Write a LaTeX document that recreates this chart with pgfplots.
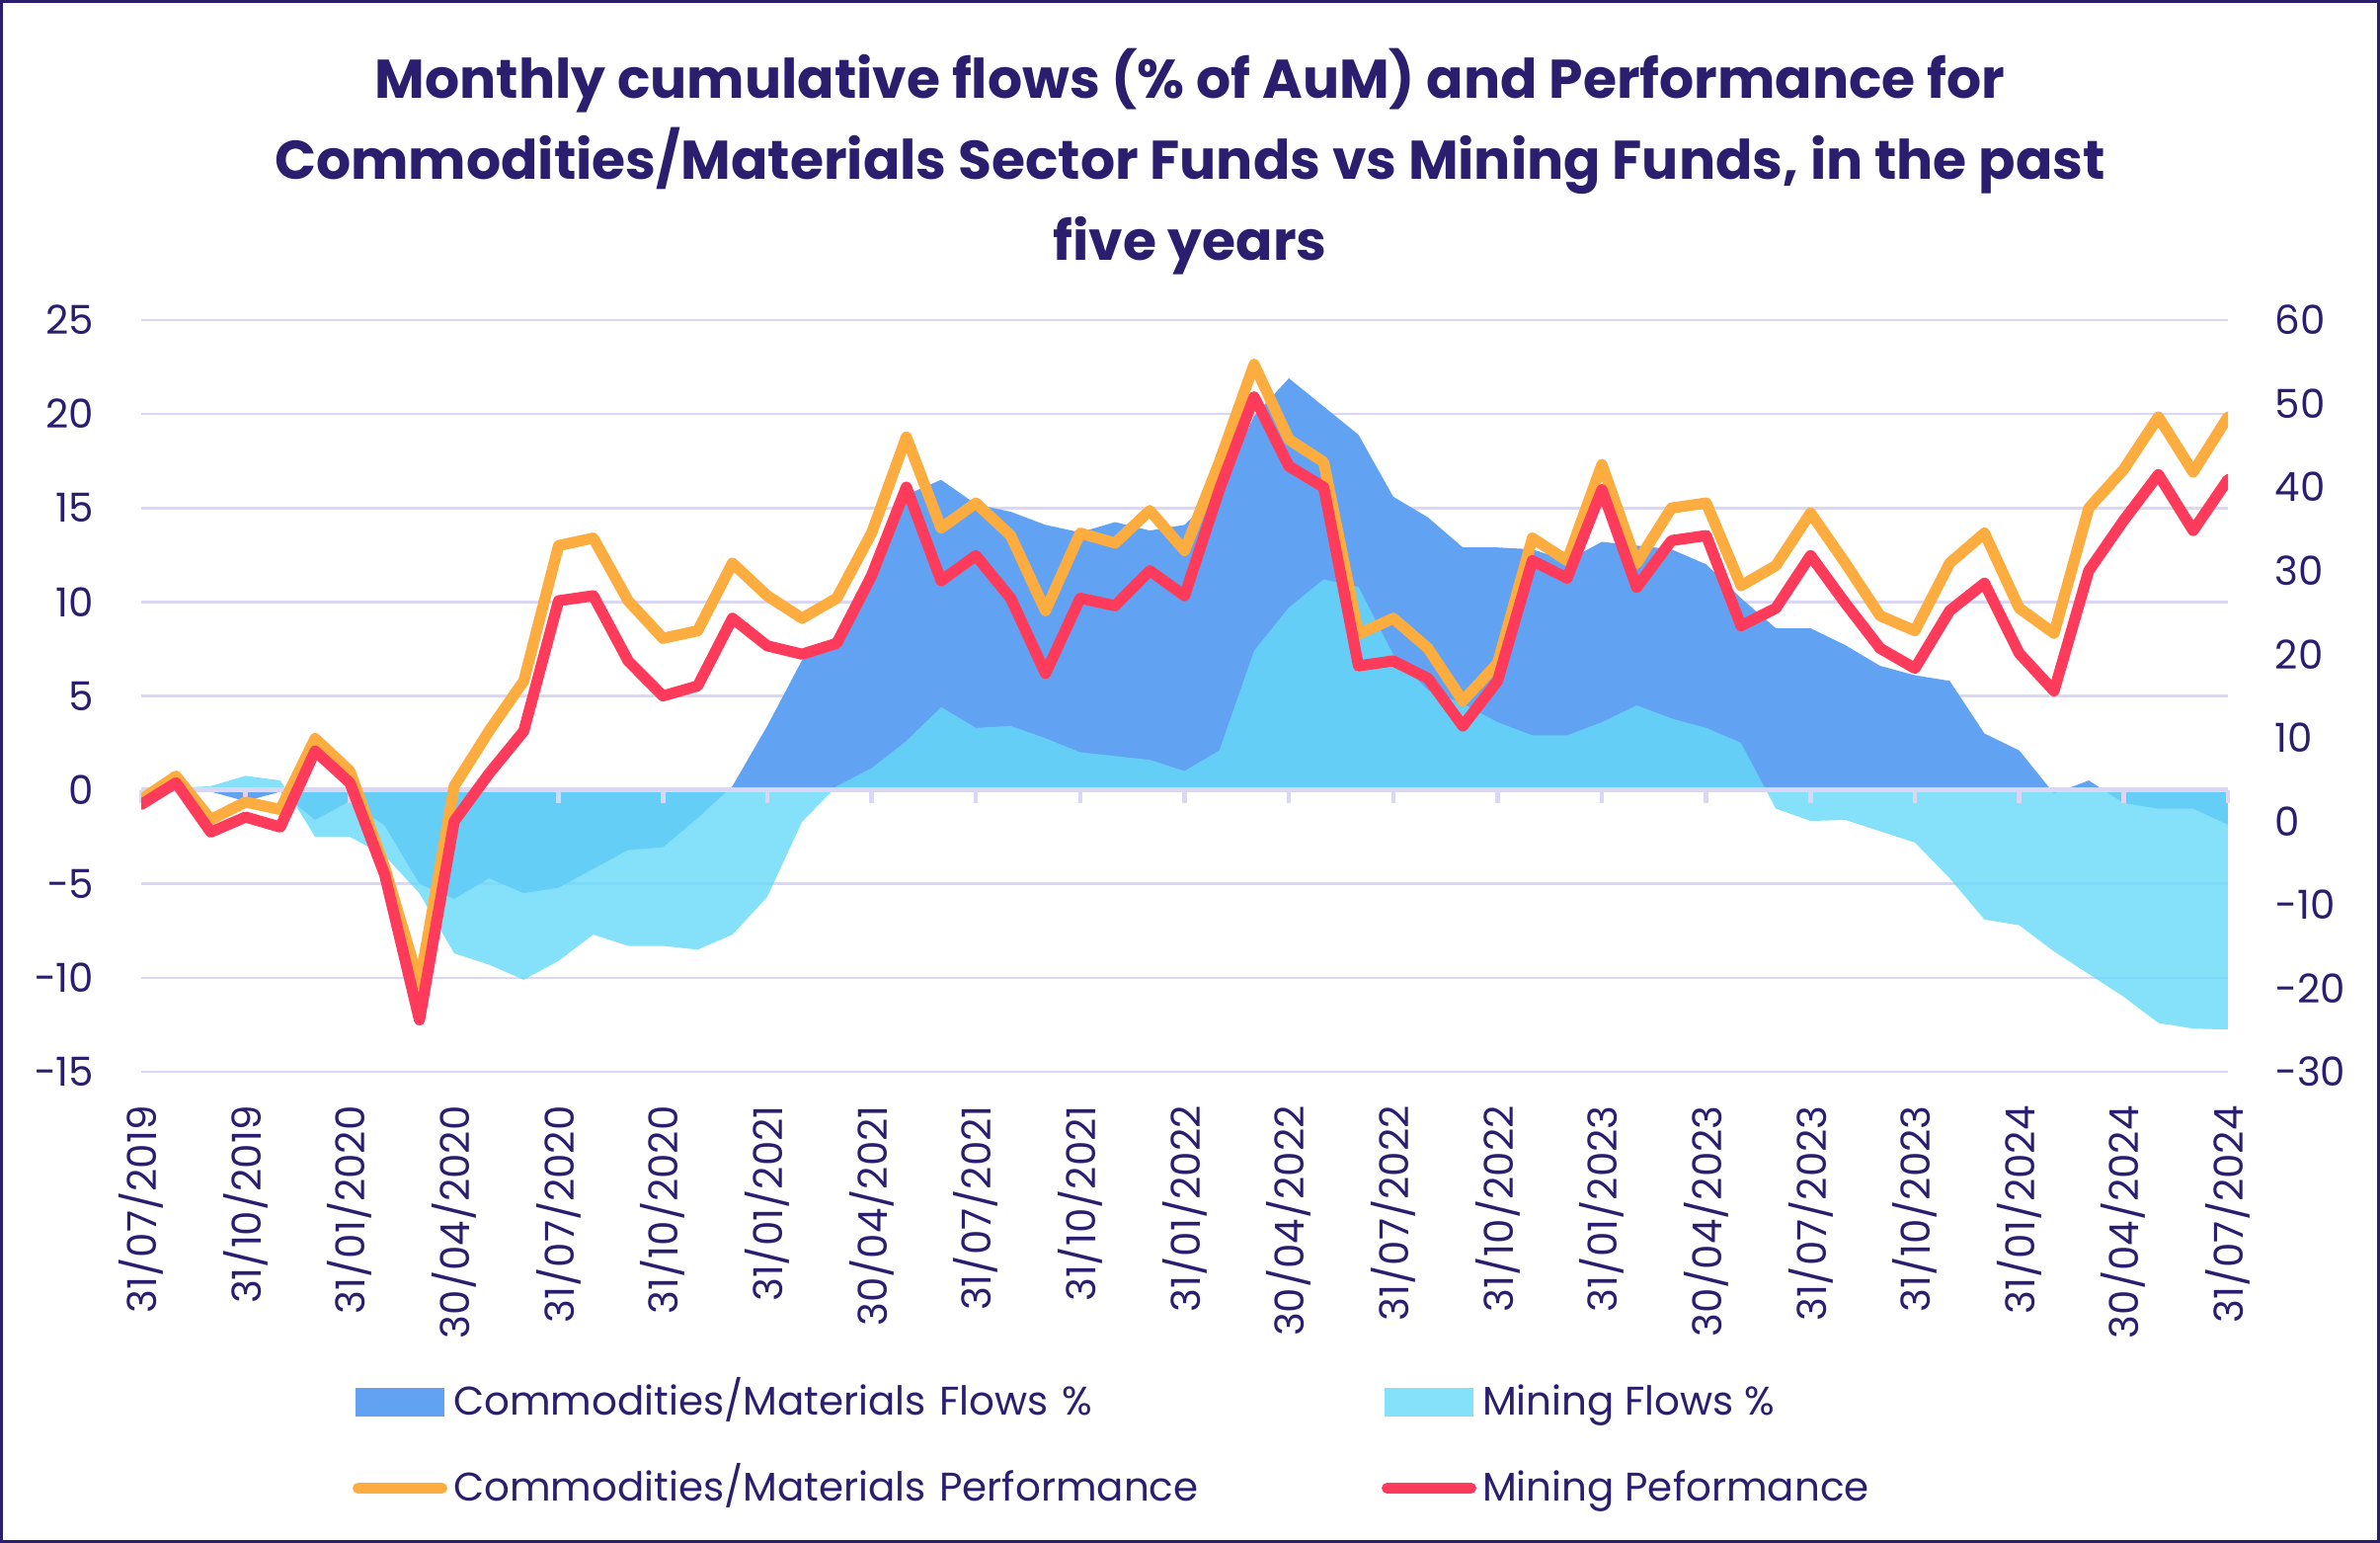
\documentclass[border=0pt]{standalone}
\usepackage{fontspec}
\setmainfont{Poppins}
\usepackage{pgfplots}
\pgfplotsset{compat=1.18}
\usepackage{pgfplotstable}

\definecolor{navy}{RGB}{43,30,110}
\definecolor{gridc}{RGB}{218,214,245}
\definecolor{cmflow}{RGB}{98,162,243}
\definecolor{mnflow}{RGB}{102,218,249}
\definecolor{mnswatch}{RGB}{133,225,250}
\definecolor{cmperf}{RGB}{253,172,64}
\definecolor{mnperf}{RGB}{255,59,92}

% m = months since 31/07/2019
\pgfplotstableread{
m  cflow  mflow  cperf  mperf
0   0.0    0.0    2.6    2.0
1   0.0    0.1    5.4    4.6
2  -0.1    0.2    0.2   -1.3
3  -0.6    0.75   2.3    0.5
4  -0.1    0.5    1.4   -0.7
5  -1.6   -2.5    9.9    8.4
6  -0.6   -2.5    6.0    4.6
7  -1.9   -3.5   -5.5   -6.4
8  -5.0   -5.5  -19.5  -23.8
9  -5.8   -8.7    4.2    0.0
10 -4.7   -9.3   10.8    5.7
11 -5.5  -10.1   16.8   10.8
12 -5.2   -9.1   33.0   26.4
13 -4.2   -7.7   33.9   27.0
14 -3.2   -8.3   26.4   19.2
15 -3.05  -8.3   21.9   15.0
16 -1.5   -8.5   22.8   16.2
17  0.2   -7.7   30.9   24.3
18  3.4   -5.7   27.0   21.0
19  6.9   -1.7   24.3   20.0
20  8.2    0.2   26.7   21.3
21 11.4    1.15  34.5   29.4
22 15.7    2.6   46.0   40.0
23 16.5    4.4   35.1   28.8
24 15.2    3.3   38.1   31.8
25 14.8    3.4   34.2   26.7
26 14.1    2.75  25.2   17.7
27 13.7    2.0   34.5   26.7
28 14.25   1.8   33.3   25.8
29 13.8    1.6   37.2   30.0
30 14.1    1.0   32.4   27.0
31 15.9    2.1   43.0   39.7
32 19.9    7.4   54.7   50.8
33 21.9    9.7   45.7   42.5
34 20.4   11.2   43.0   40.0
35 18.9   10.8   22.4   18.6
36 15.6    7.2   24.3   19.2
37 14.5    5.3   20.7   17.1
38 12.9    4.6   14.4   11.4
39 12.9    3.6   18.9   16.8
40 12.8    2.9   33.9   31.2
41 12.2    2.9   31.2   29.1
42 13.2    3.6   42.7   39.7
43 13.0    4.5   30.9   28.0
44 12.8    3.8   37.5   33.6
45 12.0    3.3   38.1   34.2
46 10.2    2.5   28.2   23.4
47  8.6   -1.0   30.6   25.5
48  8.6   -1.65  36.9   31.8
49  7.7   -1.6   30.9   26.1
50  6.6   -2.2   24.6   20.7
51  6.1   -2.8   22.8   18.3
52  5.8   -4.7   30.9   25.2
53  3.0   -6.9   34.5   28.5
54  2.1   -7.2   25.5   20.1
55 -0.2   -8.6   22.5   15.6
56  0.5   -9.8   37.5   30.0
57 -0.7  -11.0   42.1   36.0
58 -1.0  -12.4   48.4   41.5
59 -1.0  -12.7   41.8   34.8
60 -1.85 -12.75  48.4   40.9
}\flows

\pgfplotsset{
  base/.style={
    at={(1.43cm,4.77cm)}, anchor=south west,
    scale only axis, width=21.13cm, height=7.61cm,
    xmin=0, xmax=60,
    tick label style={font=\fontsize{11.5}{13}\selectfont, text=navy},
  },
}

\begin{document}
\begin{tikzpicture}[x=1cm,y=1cm]
\draw[navy, line width=0.03cm] (0.015,0.015) rectangle (24.085,15.605);

\begin{scope}[every node/.style={anchor=base, text=navy, font=\fontsize{15.7}{18}\selectfont\bfseries}]
\node at (12.05,14.627) {Monthly cumulative flows (\% of AuM) and Performance for};
\node at (12.05,13.803) {Commodities/Materials Sector Funds vs Mining Funds, in the past};
\node at (12.05,12.987) {five years};
\end{scope}

% left axis: flows
\begin{axis}[base,
  ymin=-15, ymax=25,
  ytick={-15,-10,...,25},
  yticklabels={−15,−10,−5,0,5,10,15,20,25},
  ymajorgrids, grid style={gridc, line width=0.75pt},
  axis line style={draw=none}, major tick length=0pt,
  xtick={0,3,...,60},
  xticklabels={31/07/2019,31/10/2019,31/01/2020,30/04/2020,31/07/2020,31/10/2020,
    31/01/2021,30/04/2021,31/07/2021,31/10/2021,31/01/2022,30/04/2022,31/07/2022,
    31/10/2022,31/01/2023,30/04/2023,31/07/2023,31/10/2023,31/01/2024,30/04/2024,31/07/2024},
  xticklabel style={rotate=90, anchor=east},
  xticklabel shift=0.22cm,
  yticklabel shift=0.355cm,
]
\addplot[draw=none, fill=cmflow] table[x=m, y=cflow]{\flows} \closedcycle;
\addplot[draw=none, fill=mnflow, fill opacity=0.8] table[x=m, y=mflow]{\flows} \closedcycle;
\end{axis}

% zero line with ticks
\begin{axis}[base,
  ymin=-15, ymax=25,
  axis x line=middle, axis y line=none,
  x axis line style={-, draw=gridc, line width=1.5pt},
  xtick={0,3,...,60}, xticklabels={}, ytick=\empty,
  xtick align=outside, major tick length=0.13cm,
  xtick style={draw=gridc, line width=1.3pt},
  hide obscured x ticks=false,
]
\addplot[draw=none] coordinates {(0,0) (60,0)};
\end{axis}

% right axis: performance
\begin{axis}[base,
  ymin=-30, ymax=60,
  ytick={-30,-20,...,60},
  yticklabels={−30,−20,−10,0,10,20,30,40,50,60},
  axis x line=none, axis y line*=right,
  y axis line style={draw=none}, major tick length=0pt,
  yticklabel shift=0.355cm,
  legend columns=2,
  legend cell align=left,
  legend style={
    at={(0.1013,-0.4139)}, anchor=north west,
    draw=none, fill=none, inner sep=0pt, outer sep=0pt,
    row sep=0.48cm, column sep=0pt,
    /tikz/every odd column/.append style={column sep=0.06cm},
    /tikz/column 2/.style={nodes={text width=9.40cm}},
    nodes={inner sep=0pt, text height=0.33cm, text depth=0.06cm,
      font=\fontsize{11.5}{13}\selectfont, text=navy},
  },
]
\addlegendimage{legend image code/.code={\fill[cmflow] (0.04cm,-0.135cm) rectangle (0.92cm,0.135cm);}}
\addlegendimage{legend image code/.code={\fill[mnswatch] (0.04cm,-0.135cm) rectangle (0.92cm,0.135cm);}}
\addplot[cmperf, line width=3.2pt, line join=round, line cap=round,
  legend image code/.code={\draw[cmperf, line width=0.11cm, line cap=round] (0.055cm,0cm) -- (0.905cm,0cm);}]
  table[x=m, y=cperf]{\flows};
\addplot[mnperf, line width=3.2pt, line join=round, line cap=round,
  legend image code/.code={\draw[mnperf, line width=0.11cm, line cap=round] (0.055cm,0cm) -- (0.905cm,0cm);}]
  table[x=m, y=mperf]{\flows};
\legend{Commodities/Materials Flows \%, Mining Flows \%, Commodities/Materials Performance, Mining Peformance}
\end{axis}
\end{tikzpicture}
\end{document}
